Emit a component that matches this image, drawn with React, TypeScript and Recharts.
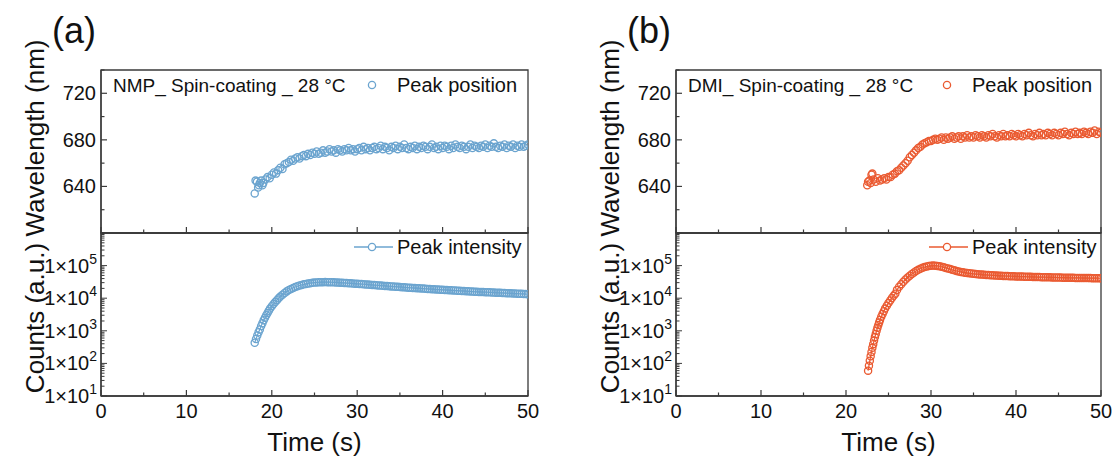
import React from 'react';
import { ScatterChart, Scatter, XAxis, YAxis, ReferenceArea } from 'recharts';

const W = 1118;
const H = 466;
const FONT = "'Liberation Sans', Arial, Helvetica, sans-serif";
const AXIS = '#3a3a3a';
const TEXT = '#111111';

const BLUE = '#6BA4CF';
const ORANGE = '#EA5A31';

// axis ticks
const TIME_TICKS = [0, 5, 10, 15, 20, 25, 30, 35, 40, 45, 50];
const TIME_LABELS = [0, 10, 20, 30, 40, 50];
const WL_TICKS = [600, 620, 640, 660, 680, 700, 720, 740];
const WL_LABELS = [640, 680, 720];
const LOG_MAJOR = [10, 100, 1000, 10000, 100000, 1000000];
const LOG_LABELS = [10, 100, 1000, 10000, 100000];
const LOG_MINOR_STEPS = [1, 2, 3, 4, 5, 6, 7, 8, 9];

// (a) NMP, spin-coating, 28 °C
const NMP_POS_T = [
  18.0, 18.1, 18.25, 18.4, 18.5, 18.6, 18.75, 18.9, 19.0, 19.25, 19.5, 19.75,
  20.0, 20.25, 20.5, 20.75, 21.0, 21.25, 21.5, 21.75, 22.0, 22.25, 22.5, 22.75,
  23.0, 23.25, 23.5, 23.75, 24.0, 24.25, 24.5, 24.75, 25.0, 25.25, 25.5, 25.75,
  26.0, 26.25, 26.5, 26.75, 27.0, 27.25, 27.5, 27.75, 28.0, 28.25, 28.5, 28.75,
  29.0, 29.25, 29.5, 29.75, 30.0, 30.25, 30.5, 30.75, 31.0, 31.25, 31.5, 31.75,
  32.0, 32.25, 32.5, 32.75, 33.0, 33.25, 33.5, 33.75, 34.0, 34.25, 34.5, 34.75,
  35.0, 35.25, 35.5, 35.75, 36.0, 36.25, 36.5, 36.75, 37.0, 37.25, 37.5, 37.75,
  38.0, 38.25, 38.5, 38.75, 39.0, 39.25, 39.5, 39.75, 40.0, 40.25, 40.5, 40.75,
  41.0, 41.25, 41.5, 41.75, 42.0, 42.25, 42.5, 42.75, 43.0, 43.25, 43.5, 43.75,
  44.0, 44.25, 44.5, 44.75, 45.0, 45.25, 45.5, 45.75, 46.0, 46.25, 46.5, 46.75,
  47.0, 47.25, 47.5, 47.75, 48.0, 48.25, 48.5, 48.75, 49.0, 49.25, 49.5, 49.75, 50.0,
];
const NMP_POS = [
  634, 645, 644, 639, 641, 643, 645, 641, 643, 646, 648, 647,
  650, 652, 651, 654, 656, 655, 659, 660, 661, 663, 662, 664,
  665, 664, 666, 667, 666, 668, 667, 669, 668, 670, 668, 669,
  671, 669, 670, 672, 670, 671, 669, 672, 671, 670, 672, 671,
  673, 671, 672, 670, 672, 673, 671, 674, 672, 673, 671, 673,
  674, 672, 673, 675, 672, 674, 673, 671, 674, 673, 675, 672,
  674, 673, 676, 673, 672, 674, 673, 675, 672, 674, 673, 675,
  674, 672, 674, 676, 673, 674, 672, 675, 673, 675, 674, 672,
  675, 673, 676, 674, 673, 675, 674, 672, 674, 676, 673, 675,
  674, 673, 675, 674, 676, 673, 675, 674, 677, 674, 673, 675,
  674, 676, 673, 675, 674, 676, 673, 675, 674, 676, 674, 675, 676,
];
const NMP_INT_T = [
  18.0, 18.15, 18.3, 18.45, 18.6, 18.75, 18.9, 19.05, 19.2, 19.35, 19.5, 19.65,
  19.8, 20.0, 20.2, 20.4, 20.6, 20.8, 21.0, 21.25, 21.5, 21.75, 22.0, 22.25,
  22.5, 22.75, 23.0, 23.25, 23.5, 23.75, 24.0, 24.25, 24.5, 24.75, 25.0, 25.25,
  25.5, 25.75, 26.0, 26.25, 26.5, 26.75, 27.0, 27.25, 27.5, 27.75, 28.0, 28.25,
  28.5, 28.75, 29.0, 29.25, 29.5, 29.75, 30.0, 30.25, 30.5, 30.75, 31.0, 31.25,
  31.5, 31.75, 32.0, 32.25, 32.5, 32.75, 33.0, 33.25, 33.5, 33.75, 34.0, 34.25,
  34.5, 34.75, 35.0, 35.25, 35.5, 35.75, 36.0, 36.25, 36.5, 36.75, 37.0, 37.25,
  37.5, 37.75, 38.0, 38.25, 38.5, 38.75, 39.0, 39.25, 39.5, 39.75, 40.0, 40.25,
  40.5, 40.75, 41.0, 41.25, 41.5, 41.75, 42.0, 42.25, 42.5, 42.75, 43.0, 43.25,
  43.5, 43.75, 44.0, 44.25, 44.5, 44.75, 45.0, 45.25, 45.5, 45.75, 46.0, 46.25,
  46.5, 46.75, 47.0, 47.25, 47.5, 47.75, 48.0, 48.25, 48.5, 48.75, 49.0, 49.25,
  49.5, 49.75, 50.0,
];
const NMP_INT = [
  430, 560, 720, 900, 1100, 1400, 1700, 2100, 2500, 3000, 3500, 4100,
  4800, 5700, 6600, 7600, 8700, 9900, 11200, 12800, 14500, 16200, 17800, 19300,
  20700, 22000, 23300, 24500, 25600, 26600, 27500, 28300, 29000, 29600, 30100, 30500,
  30800, 31000, 31100, 31150, 31100, 31000, 30850, 30650, 30450, 30200, 29950, 29700,
  29450, 29150, 28850, 28550, 28250, 27950, 27650, 27350, 27050, 26750, 26450, 26150,
  25850, 25550, 25250, 24950, 24650, 24350, 24050, 23800, 23550, 23300, 23050, 22800,
  22550, 22300, 22050, 21800, 21550, 21300, 21100, 20900, 20700, 20500, 20300, 20100,
  19900, 19700, 19500, 19300, 19100, 18900, 18700, 18500, 18350, 18200, 18050, 17900,
  17750, 17600, 17450, 17300, 17150, 17000, 16850, 16700, 16550, 16400, 16250, 16100,
  15950, 15800, 15700, 15600, 15500, 15400, 15300, 15200, 15100, 15000, 14900, 14800,
  14700, 14600, 14500, 14400, 14300, 14200, 14100, 14000, 13900, 13800, 13700, 13600,
  13500, 13400, 13300,
];

// (b) DMI, spin-coating, 28 °C
const DMI_POS_T = [
  22.5, 22.6, 22.75, 22.9, 23.0, 23.1, 23.25, 23.5, 23.75, 24.0, 24.25, 24.5,
  24.75, 25.0, 25.25, 25.5, 25.75, 26.0, 26.25, 26.5, 26.75, 27.0, 27.25, 27.5,
  27.75, 28.0, 28.25, 28.5, 28.75, 29.0, 29.25, 29.5, 29.75, 30.0, 30.25, 30.5,
  30.75, 31.0, 31.25, 31.5, 31.75, 32.0, 32.25, 32.5, 32.75, 33.0, 33.25, 33.5,
  33.75, 34.0, 34.25, 34.5, 34.75, 35.0, 35.25, 35.5, 35.75, 36.0, 36.25, 36.5,
  36.75, 37.0, 37.25, 37.5, 37.75, 38.0, 38.25, 38.5, 38.75, 39.0, 39.25, 39.5,
  39.75, 40.0, 40.25, 40.5, 40.75, 41.0, 41.25, 41.5, 41.75, 42.0, 42.25, 42.5,
  42.75, 43.0, 43.25, 43.5, 43.75, 44.0, 44.25, 44.5, 44.75, 45.0, 45.25, 45.5,
  45.75, 46.0, 46.25, 46.5, 46.75, 47.0, 47.25, 47.5, 47.75, 48.0, 48.25, 48.5,
  48.75, 49.0, 49.25, 49.5, 49.75, 50.0,
];
const DMI_POS = [
  641, 644, 645, 643, 650, 651, 646, 644, 647, 645, 646, 647,
  646, 648, 648, 650, 651, 653, 654, 656, 658, 660, 662, 665,
  667, 669, 671, 673, 674, 676, 677, 678, 679, 679, 680, 681,
  680, 681, 682, 680, 682, 681, 682, 683, 681, 682, 683, 681,
  683, 682, 684, 682, 683, 682, 684, 683, 682, 684, 683, 682,
  684, 683, 685, 683, 682, 684, 683, 685, 683, 684, 683, 685,
  684, 683, 685, 684, 683, 685, 684, 686, 684, 683, 685, 684,
  686, 684, 685, 684, 686, 685, 684, 686, 685, 684, 686, 685,
  687, 685, 684, 686, 685, 687, 685, 686, 685, 687, 686, 685,
  687, 686, 688, 685, 687, 686,
];
const DMI_INT_T = [
  22.6, 22.7, 22.8, 22.9, 23.0, 23.1, 23.2, 23.3, 23.4, 23.5, 23.6, 23.7,
  23.8, 23.9, 24.0, 24.15, 24.3, 24.45, 24.6, 24.8, 25.0, 25.2, 25.4, 25.6,
  25.8, 26.0, 26.25, 26.5, 26.75, 27.0, 27.25, 27.5, 27.75, 28.0, 28.25, 28.5,
  28.75, 29.0, 29.25, 29.5, 29.75, 30.0, 30.25, 30.5, 30.75, 31.0, 31.25, 31.5,
  31.75, 32.0, 32.25, 32.5, 32.75, 33.0, 33.25, 33.5, 33.75, 34.0, 34.25, 34.5,
  34.75, 35.0, 35.25, 35.5, 35.75, 36.0, 36.25, 36.5, 36.75, 37.0, 37.25, 37.5,
  37.75, 38.0, 38.25, 38.5, 38.75, 39.0, 39.25, 39.5, 39.75, 40.0, 40.25, 40.5,
  40.75, 41.0, 41.25, 41.5, 41.75, 42.0, 42.25, 42.5, 42.75, 43.0, 43.25, 43.5,
  43.75, 44.0, 44.25, 44.5, 44.75, 45.0, 45.25, 45.5, 45.75, 46.0, 46.25, 46.5,
  46.75, 47.0, 47.25, 47.5, 47.75, 48.0, 48.25, 48.5, 48.75, 49.0, 49.25, 49.5,
  49.75, 50.0,
];
const DMI_INT = [
  60, 85, 120, 165, 225, 300, 390, 500, 640, 800, 1000, 1230,
  1500, 1800, 2150, 2700, 3300, 4000, 4800, 5900, 7100, 8500, 10100, 11800,
  13800, 18000, 22500, 27000, 32000, 37500, 43000, 49000, 55000, 61500, 68000, 74000,
  80000, 85500, 90000, 94000, 97000, 99000, 100000, 99800, 98000, 95500, 92000, 88500,
  85000, 81500, 78000, 74500, 71500, 68500, 66000, 64000, 62000, 60500, 59200, 58000,
  57000, 56000, 55100, 54300, 53600, 52900, 52300, 51700, 51200, 50700, 50200, 49800,
  49400, 49000, 48600, 48300, 48000, 47700, 47400, 47100, 46800, 46600, 46300, 46100,
  45900, 45700, 45500, 45300, 45100, 44900, 44700, 44500, 44350, 44200, 44050, 43900,
  43750, 43600, 43450, 43300, 43150, 43000, 42850, 42700, 42600, 42500, 42350, 42200,
  42100, 42000, 41900, 41800, 41700, 41600, 41500, 41400, 41300, 41200, 41100, 41000,
  40900, 40800,
];

const zip = (ts: number[], vs: number[]) => ts.map((t, i) => ({ t, v: vs[i] }));

const LOG_TICKS = LOG_MAJOR.flatMap((d, i) =>
  i === LOG_MAJOR.length - 1 ? [d] : LOG_MINOR_STEPS.map((m) => m * d)
);

// plot frame geometry (page pixels)
const TOP = 70;
const MID = 233;
const BOTTOM = 396;
const Y_W = 60;
const X_H = 30;

const timeTick = (withLabel: boolean) => (p: any) => {
  const v = p.payload.value;
  const major = v % 10 === 0;
  return (
    <g>
      <line x1={p.x} x2={p.x} y1={p.y} y2={p.y - (major ? 6 : 3.5)} stroke={AXIS} strokeWidth={1.2} />
      {withLabel && TIME_LABELS.includes(v) && (
        <text x={p.x} y={p.y + 22} textAnchor="middle" fontSize={20} fontFamily={FONT} fill={TEXT}>
          {v}
        </text>
      )}
    </g>
  );
};

const wlTick = (p: any) => {
  const v = p.payload.value;
  const major = WL_LABELS.includes(v);
  return (
    <g>
      <line x1={p.x} x2={p.x + (major ? 6 : 3.5)} y1={p.y} y2={p.y} stroke={AXIS} strokeWidth={1.2} />
      {major && (
        <text x={p.x - 5} y={p.y + 7} textAnchor="end" fontSize={20} fontFamily={FONT} fill={TEXT}>
          {v}
        </text>
      )}
    </g>
  );
};

const logTick = (p: any) => {
  const v = p.payload.value;
  const major = LOG_MAJOR.includes(v);
  const k = Math.round(Math.log10(v));
  return (
    <g>
      <line x1={p.x} x2={p.x + (major ? 6 : 3.5)} y1={p.y} y2={p.y} stroke={AXIS} strokeWidth={1} />
      {LOG_LABELS.includes(v) && (
        <text x={p.x - 4} y={p.y + 7} textAnchor="end" fontSize={20} fontFamily={FONT} fill={TEXT}>
          <tspan>1×10</tspan>
          <tspan dy={-9} fontSize={14}>{k}</tspan>
        </text>
      )}
    </g>
  );
};

const ring = (color: string) => (p: any) =>
  <circle cx={p.cx} cy={p.cy} r={3.6} fill="none" stroke={color} strokeWidth={1.3} />;

interface PanelProps {
  tag: string;
  note: string;
  left: number;
  right: number;
  color: string;
  pos: { t: number; v: number }[];
  inten: { t: number; v: number }[];
}

function Panel({ tag, note, left, right, color, pos, inten }: PanelProps) {
  const dx = left - 101;
  const abs = { position: 'absolute' as const, left: 0, top: 0 };
  return (
    <>
      <div style={abs}>
        <ScatterChart
          width={W}
          height={H}
          margin={{ top: TOP, bottom: H - MID - X_H, left: left - Y_W, right: W - right }}
        >
          <XAxis
            dataKey="t"
            type="number"
            domain={[0, 50]}
            ticks={TIME_TICKS}
            interval={0}
            allowDataOverflow
            height={X_H}
            tickSize={0}
            tickMargin={0}
            tickLine={false}
            axisLine={{ stroke: AXIS, strokeWidth: 1.3 }}
            tick={timeTick(false)}
          />
          <YAxis
            dataKey="v"
            type="number"
            domain={[600, 740]}
            ticks={WL_TICKS}
            interval={0}
            allowDataOverflow
            width={Y_W}
            tickSize={0}
            tickMargin={0}
            tickLine={false}
            axisLine={{ stroke: AXIS, strokeWidth: 1.3 }}
            tick={wlTick}
          />
          <ReferenceArea x1={0} x2={50} y1={600} y2={740} fill="none" stroke={AXIS} strokeWidth={1.3} />
          <Scatter data={pos} shape={ring(color)} isAnimationActive={false} />
        </ScatterChart>
      </div>
      <div style={abs}>
        <ScatterChart
          width={W}
          height={H}
          margin={{ top: MID, bottom: H - BOTTOM - X_H, left: left - Y_W, right: W - right }}
        >
          <XAxis
            dataKey="t"
            type="number"
            domain={[0, 50]}
            ticks={TIME_TICKS}
            interval={0}
            allowDataOverflow
            height={X_H}
            tickSize={0}
            tickMargin={0}
            tickLine={false}
            axisLine={{ stroke: AXIS, strokeWidth: 1.3 }}
            tick={timeTick(true)}
          />
          <YAxis
            dataKey="v"
            type="number"
            scale="log"
            domain={[10, 1000000]}
            ticks={LOG_TICKS}
            interval={0}
            allowDataOverflow
            width={Y_W}
            tickSize={0}
            tickMargin={0}
            tickLine={false}
            axisLine={{ stroke: AXIS, strokeWidth: 1.3 }}
            tick={logTick}
          />
          <ReferenceArea x1={0} x2={50} y1={10} y2={1000000} fill="none" stroke={AXIS} strokeWidth={1.3} />
          <Scatter
            data={inten}
            shape={ring(color)}
            line={{ stroke: color, strokeWidth: 1.2 }}
            isAnimationActive={false}
          />
        </ScatterChart>
      </div>
      <svg style={abs} width={W} height={H}>
        <g fontFamily={FONT} fill={TEXT}>
          <text x={52 + dx} y={43} fontSize={36}>{tag}</text>
          <text transform={`translate(${44 + dx},138) rotate(-90)`} textAnchor="middle" fontSize={26}>
            Wavelength (nm)
          </text>
          <text transform={`translate(${44 + dx},318) rotate(-90)`} textAnchor="middle" fontSize={26}>
            Counts (a.u.)
          </text>
          <text x={(left + right) / 2} y={451} textAnchor="middle" fontSize={26}>Time (s)</text>
          <text x={113 + dx} y={92} fontSize={19}>{note}</text>
          <circle cx={372 + dx} cy={85} r={3.6} fill="none" stroke={color} strokeWidth={1.3} />
          <text x={397 + dx} y={92} fontSize={20}>Peak position</text>
          <line x1={354 + dx} x2={393 + dx} y1={247} y2={247} stroke={color} strokeWidth={1.3} />
          <circle cx={372 + dx} cy={247} r={3.6} fill="#fff" stroke={color} strokeWidth={1.3} />
          <text x={397 + dx} y={254} fontSize={20}>Peak intensity</text>
        </g>
      </svg>
    </>
  );
}

export default function App() {
  return (
    <div style={{ position: 'absolute', left: 0, top: 0, width: W, height: H, background: '#fff', overflow: 'hidden' }}>
      <Panel
        tag="(a)"
        note="NMP_ Spin-coating _ 28 °C"
        left={101}
        right={528}
        color={BLUE}
        pos={zip(NMP_POS_T, NMP_POS)}
        inten={zip(NMP_INT_T, NMP_INT)}
      />
      <Panel
        tag="(b)"
        note="DMI_ Spin-coating _ 28 °C"
        left={676}
        right={1101}
        color={ORANGE}
        pos={zip(DMI_POS_T, DMI_POS)}
        inten={zip(DMI_INT_T, DMI_INT)}
      />
    </div>
  );
}
